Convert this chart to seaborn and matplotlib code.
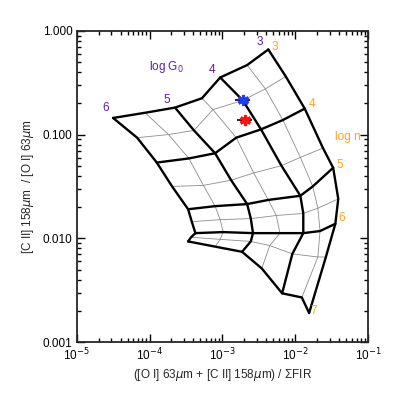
import numpy as np
import pandas as pd
import matplotlib
matplotlib.use("Agg")
import matplotlib.pyplot as plt
import seaborn as sns
from matplotlib.ticker import FuncFormatter, LogLocator, NullFormatter

# ---------------- data ----------------
log_G0 = [3.0, 3.5, 4.0, 4.5, 5.0, 5.5, 6.0]
log_n = [3.0, 3.5, 4.0, 4.5, 5.0, 5.5, 6.0, 6.5, 7.0]

# log10( ([O I]63 + [C II]158) / FIR ) at each model node, one list per log G0 (over log n)
lx_G0_30 = [-2.37, -2.13, -1.87, -1.62, -1.48, -1.41, -1.45, -1.58, -1.81]
lx_G0_35 = [-2.66, -2.41, -2.17, -1.93, -1.76, -1.69, -1.66, -1.69, -1.91]
lx_G0_40 = [-3.03, -2.72, -2.47, -2.19, -1.93, -1.89, -1.89, -2.04, -2.18]
lx_G0_45 = [-3.28, -3.13, -2.81, -2.57, -2.37, -2.26, -2.21, -2.35, -2.46]
lx_G0_50 = [-3.65, -3.39, -3.10, -2.88, -2.66, -2.61, -2.58, -2.61, -2.73]
lx_G0_55 = [-4.06, -3.74, -3.46, -3.26, -3.10, -3.03, -2.99, -3.03, -3.10]
lx_G0_60 = [-4.50, -4.17, -3.90, -3.69, -3.47, -3.42, -3.37, -3.43, -3.47]

# log10( [C II]158 / [O I]63 ) at each model node
ly_G0_30 = [-0.18, -0.44, -0.75, -1.13, -1.32, -1.62, -1.86, -2.18, -2.72]
ly_G0_35 = [-0.33, -0.56, -0.86, -1.22, -1.50, -1.71, -1.93, -2.18, -2.57]
ly_G0_40 = [-0.45, -0.67, -0.95, -1.30, -1.59, -1.76, -1.95, -2.15, -2.53]
ly_G0_45 = [-0.65, -0.76, -1.03, -1.37, -1.63, -1.78, -1.95, -2.07, -2.29]
ly_G0_50 = [-0.74, -0.96, -1.18, -1.44, -1.67, -1.81, -1.95, -2.03, -2.13]
ly_G0_55 = [-0.79, -1.00, -1.23, -1.49, -1.69, -1.82, -1.94, -2.01, -2.08]
ly_G0_60 = [-0.84, -1.03, -1.27, -1.50, -1.72, -1.84, -1.95, -1.99, -2.03]

# observed points
obs_x = [1.92e-3, 2.05e-3]
obs_y = [0.216, 0.139]
obs_xlo = [1.49e-3, 1.59e-3]
obs_xhi = [2.40e-3, 2.56e-3]
obs_colors = ["#1e3cff", "#ff1010"]

# grid labels
G0_labels = ["3", "4", "5", "6"]
G0_label_x = [3.3e-3, 7.2e-4, 1.7e-4, 2.5e-5]
G0_label_y = [0.78, 0.42, 0.216, 0.181]
n_labels = ["3", "4", "5", "6", "7"]
n_label_x = [5.3e-3, 1.7e-2, 4.1e-2, 4.4e-2, 1.8e-2]
n_label_y = [0.70, 0.198, 0.051, 0.0157, 0.0020]

y_ticks = [0.001, 0.01, 0.1, 1.0]
x_ticks = [1e-5, 1e-4, 1e-3, 1e-2, 1e-1]

# ---------------- build table ----------------
lx_rows = [lx_G0_30, lx_G0_35, lx_G0_40, lx_G0_45, lx_G0_50, lx_G0_55, lx_G0_60]
ly_rows = [ly_G0_30, ly_G0_35, ly_G0_40, ly_G0_45, ly_G0_50, ly_G0_55, ly_G0_60]
recs = []
for g, rx, ry in zip(log_G0, lx_rows, ly_rows):
    for n, a, b in zip(log_n, rx, ry):
        recs.append(dict(G0=g, n=n, x=10 ** a, y=10 ** b))
df = pd.DataFrame(recs)

# ---------------- figure ----------------
sns.set_style("ticks")
plt.rcParams["font.family"] = ["Liberation Sans", "DejaVu Sans"]
plt.rcParams["mathtext.fontset"] = "dejavusans"

fig = plt.figure(figsize=(3.95, 3.95), dpi=100)
ax = fig.add_axes([0.194, 0.134, 0.738, 0.788])
ax.set_xscale("log")
ax.set_yscale("log")

THIN = dict(color="#8c8c8c", lw=0.6)
THICK = dict(color="black", lw=1.7)

for thick_pass in (False, True):
    style = THICK if thick_pass else THIN
    for g in log_G0:
        if (g % 1 == 0) != thick_pass:
            continue
        sub = df[df.G0 == g].sort_values("n")
        sns.lineplot(data=sub, x="x", y="y", sort=False, estimator=None, ax=ax,
                     zorder=3 if thick_pass else 2, **style)
    for v in log_n:
        if (v % 1 == 0) != thick_pass:
            continue
        sub = df[df.n == v].sort_values("G0")
        sns.lineplot(data=sub, x="x", y="y", sort=False, estimator=None, ax=ax,
                     zorder=3 if thick_pass else 2, **style)

for xv, yv, lo, hi, c in zip(obs_x, obs_y, obs_xlo, obs_xhi, obs_colors):
    ax.errorbar([xv], [yv], xerr=[[xv - lo], [hi - xv]], fmt="none",
                ecolor="black", elinewidth=1.2, capsize=0, zorder=4)
    ax.plot([xv], [yv], marker=(6, 2, 0), ms=8, mew=2.2, color=c,
            linestyle="none", zorder=5)

purple = "#5c1fa3"
orange = "#ffa31a"
for t, xv, yv in zip(G0_labels, G0_label_x, G0_label_y):
    ax.text(xv, yv, t, color=purple, fontsize=8.5, ha="center", va="center")
for t, xv, yv in zip(n_labels, n_label_x, n_label_y):
    ax.text(xv, yv, t, color=orange, fontsize=8.5, ha="center", va="center")
ax.text(9.8e-5, 0.45, r"log G$_0$", color=purple, fontsize=8.5, ha="left", va="center")
ax.text(3.5e-2, 0.095, "log n", color=orange, fontsize=8.5, ha="left", va="center")

ax.set_xlim(1e-5, 1e-1)
ax.set_ylim(1e-3, 1.0)
ax.set_xticks(x_ticks)
ax.set_yticks(y_ticks)
ax.xaxis.set_minor_locator(LogLocator(base=10, subs=np.arange(2, 10)))
ax.yaxis.set_minor_locator(LogLocator(base=10, subs=np.arange(2, 10)))
ax.xaxis.set_minor_formatter(NullFormatter())
ax.yaxis.set_minor_formatter(NullFormatter())
ax.xaxis.set_major_formatter(FuncFormatter(lambda v, p: r"10$^{%d}$" % int(round(np.log10(v)))))
ax.yaxis.set_major_formatter(FuncFormatter(lambda v, p: "%.3f" % v))
ax.tick_params(which="both", direction="in", top=True, right=True, labelsize=8.5,
               width=1.0, colors="black")
ax.tick_params(which="major", length=5.5, pad=3)
ax.tick_params(which="minor", length=2.8)
for s in ax.spines.values():
    s.set_linewidth(1.3)

ax.set_xlabel(r"([O I] 63$\mu$m + [C II] 158$\mu$m) / ΣFIR", fontsize=8.5, labelpad=3)
ax.set_ylabel(r"[C II] 158$\mu$m  / [O I] 63$\mu$m", fontsize=8.5, labelpad=5)

fig.savefig("out.png", dpi=100)
